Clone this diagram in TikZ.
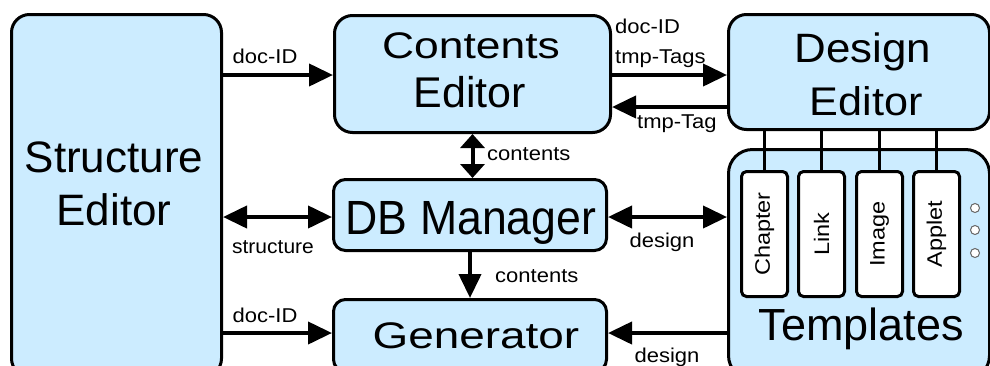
\documentclass[tikz,border=0pt]{standalone}
\usepackage{fontspec}
\setmainfont{Liberation Sans}
\usetikzlibrary{arrows.meta}
\definecolor{boxblue}{RGB}{204,236,255}
% horizontally scaled text: \hstretch{factor}{text}
\newcommand\hstretch[2]{\scalebox{#1}[1]{#2}}
\begin{document}
\begin{tikzpicture}[x=1pt,y=-1pt,
  block/.style={draw=black, line width=3pt, fill=boxblue, rounded corners=18pt,
    inner sep=0pt, anchor=north west},
  slot/.style={draw=black, line width=3pt, fill=white, rounded corners=5pt,
    inner sep=0pt, anchor=north west, minimum width=46pt, minimum height=125pt},
  bigtxt/.style={font=\fontsize{#1}{#1}\selectfont, inner sep=0pt, anchor=base},
  bigtxt/.default=44,
  smalltxt/.style={font=\fontsize{20}{24}\selectfont, inner sep=0pt, anchor=base},
  slottxt/.style={font=\fontsize{21}{25}\selectfont, inner sep=0pt, rotate=90},
  arr/.style={line width=4pt, -{Triangle[length=24pt,width=22pt]}},
  dblarr/.style={line width=4pt, {Triangle[length=24pt,width=22pt]}-{Triangle[length=24pt,width=22pt]}},
  shortdbl/.style={line width=4pt, {Triangle[length=14pt,width=24pt]}-{Triangle[length=14pt,width=24pt]}},
  link/.style={line width=3pt},
  dot/.style={draw=black!60, fill=white, line width=1pt, circle, inner sep=0pt, minimum size=9pt},
]
\useasboundingbox (0,0) rectangle (990,365);
\clip (0,0) rectangle (990,365);

% main boxes
\node[block, minimum width=210pt, minimum height=362pt] (se) at (10,13) {};
\node[block, minimum width=276pt, minimum height=117pt] (ce) at (333,14) {};
\node[block, minimum width=273pt, minimum height=71pt, rounded corners=12pt] (db) at (332,178) {};
\node[block, minimum width=273pt, minimum height=72pt, rounded corners=12pt] (gen) at (332,298) {};
\node[block, minimum width=261pt, minimum height=115pt] (de) at (727,13) {};
\node[block, minimum width=261pt, minimum height=230pt, rounded corners=24pt] (tp) at (727,148) {};

% box titles
\node[bigtxt] (se-l1) at (114,172) {Structure};
\node[bigtxt] (se-l2) at (114,225) {Editor};
\node[bigtxt=37] (ce-l1) at (471,58) {\hstretch{1.2}{Contents}};
\node[bigtxt=43] (ce-l2) at (470,107) {Editor};
\node[bigtxt=41] (de-l1) at (863,62) {\hstretch{1.07}{Design}};
\node[bigtxt=40] (de-l2) at (866,115) {\hstretch{1.08}{Editor}};
\node[bigtxt=48] (db-l) at (471,234) {\hstretch{0.93}{DB Manager}};
\node[bigtxt=37] (gen-l) at (476,348) {\hstretch{1.24}{Generator}};
\node[bigtxt=45] (tp-l) at (861,340) {Templates};

% template slots
\node[slot] (chap) at (740,170) {};
\node[slot] (lnk) at (797,170) {};
\node[slot] (img) at (855,170) {};
\node[slot] (app) at (912,170) {};
\node[slottxt] (chap-l) at (chap.center) {\hstretch{1.12}{Chapter}};
\node[slottxt] (lnk-l) at (lnk.center) {\hstretch{1.12}{Link}};
\node[slottxt] (img-l) at (img.center) {\hstretch{1.12}{Image}};
\node[slottxt] (app-l) at (app.center) {\hstretch{1.12}{Applet}};
\foreach \s in {chap,lnk,img,app}
  \draw[link] (\s.north |- de.south) -- (\s.north);

% continuation dots
\node[dot] (d1) at (975,208) {};
\node[dot] (d2) at (975,230) {};
\node[dot] (d3) at (975,253) {};

% rows used by the horizontal connectors
\coordinate (r1) at (0,75);
\coordinate (r2) at (0,107);
\coordinate (r3) at (0,217);
\coordinate (r4) at (0,333);

% connectors
\draw[arr] (se.east |- r1) -- (ce.west |- r1);
\draw[dblarr] (se.east |- r3) -- (db.west |- r3);
\draw[arr] (se.east |- r4) -- (gen.west |- r4);
\draw[shortdbl] (ce.south) -- (ce.south |- db.north);
\draw[arr] (db.south) -- (gen.north);
\draw[arr] (ce.east |- r1) -- (de.west |- r1);
\draw[arr] (de.west |- r2) -- (ce.east |- r2);
\draw[dblarr] (db.east |- r3) -- (tp.west |- r3);
\draw[arr] (tp.west |- r4) -- (gen.east |- r4);

% connector labels
\node[smalltxt] (t1) at (265,63) {\hstretch{1.1}{doc-ID}};
\node[smalltxt] (t2) at (273,253) {\hstretch{1.05}{structure}};
\node[smalltxt] (t3) at (265,322) {\hstretch{1.1}{doc-ID}};
\node[smalltxt, anchor=base west] (t4) at (487,160) {\hstretch{1.1}{contents}};
\node[smalltxt, anchor=base west] (t5) at (495,282) {\hstretch{1.1}{contents}};
\node[smalltxt, anchor=base west] (t6) at (615,33) {\hstretch{1.1}{doc-ID}};
\node[smalltxt, anchor=base west] (t7) at (615,63) {\hstretch{1.1}{tmp-Tags}};
\node[smalltxt, anchor=base west] (t8) at (637,128) {\hstretch{1.1}{tmp-Tag}};
\node[smalltxt] (t9) at (662,247) {\hstretch{1.1}{design}};
\node[smalltxt] (t10) at (667,362) {\hstretch{1.1}{design}};
\end{tikzpicture}
\end{document}
